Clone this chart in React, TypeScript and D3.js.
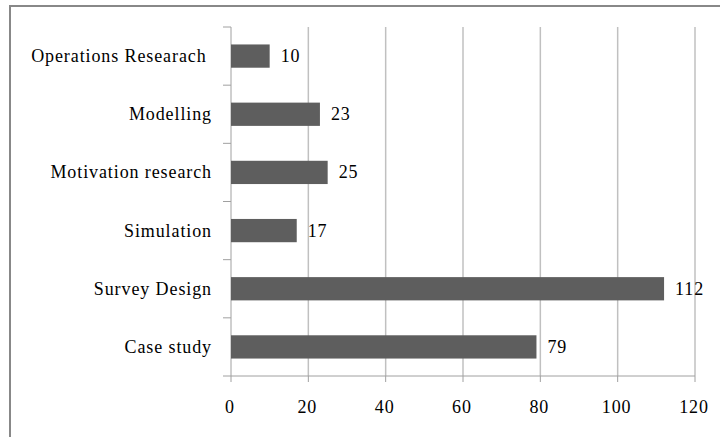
import React from "react";
import * as d3 from "d3";

const categories = ["Operations Researach ", "Modelling", "Motivation research", "Simulation", "Survey Design", "Case study"];
const values = [10, 23, 25, 17, 112, 79];
const xTicks = [0, 20, 40, 60, 80, 100, 120];

export default function App() {
  const W = 720, H = 437;
  const left = 231, right = 695, top = 27, bottom = 376;
  const x = d3.scaleLinear().domain([0, 120]).range([left, right]);
  const y = d3.scaleBand<string>().domain(categories).range([top, bottom]).paddingInner(0.6).paddingOuter(0.3);
  const font = "Times New Roman, Liberation Serif, DejaVu Serif, serif";
  const boundaries = d3.range(categories.length + 1).map(i => top + i * (bottom - top) / categories.length);
  return (
    <svg width={W} height={H} style={{ position: "absolute", left: 0, top: 0, background: "#fff" }}>
      <path d={`M10,${H + 5} V6 H${W + 5}`} fill="none" stroke="#888" strokeWidth={2} />
      {xTicks.slice(1).map(t => (
        <line key={t} x1={x(t)} x2={x(t)} y1={top} y2={bottom} stroke="#c0c0c0" strokeWidth={1.5} />
      ))}
      <line x1={left} x2={left} y1={top} y2={bottom} stroke="#a0a0a0" strokeWidth={1} />
      <line x1={left} x2={right} y1={bottom} y2={bottom} stroke="#a0a0a0" strokeWidth={1} />
      {boundaries.map((b, i) => (
        <line key={i} x1={left - 8} x2={left} y1={b} y2={b} stroke="#a0a0a0" strokeWidth={1} />
      ))}
      {xTicks.map(t => (
        <line key={t} x1={x(t)} x2={x(t)} y1={bottom} y2={bottom + 6} stroke="#a0a0a0" strokeWidth={1} />
      ))}
      {categories.map((c, i) => (
        <g key={c}>
          <rect x={x(0)} y={y(c)!} width={x(values[i]) - x(0)} height={y.bandwidth()} fill="#5e5e5e" />
          <text x={left - 19} y={y(c)! + y.bandwidth() / 2} textAnchor="end" dominantBaseline="central"
            fontFamily={font} fontSize={18} letterSpacing={0.9} fill="#000" style={{ whiteSpace: "pre" }}>{c}</text>
          <text x={x(values[i]) + 11} y={y(c)! + y.bandwidth() / 2} dominantBaseline="central"
            fontFamily={font} fontSize={18} letterSpacing={0.9} fill="#000">{values[i]}</text>
        </g>
      ))}
      {xTicks.map(t => (
        <text key={t} x={x(t) - 1} y={407} textAnchor="middle" dominantBaseline="central"
          fontFamily={font} fontSize={18} letterSpacing={0.9} fill="#000">{t}</text>
      ))}
    </svg>
  );
}
